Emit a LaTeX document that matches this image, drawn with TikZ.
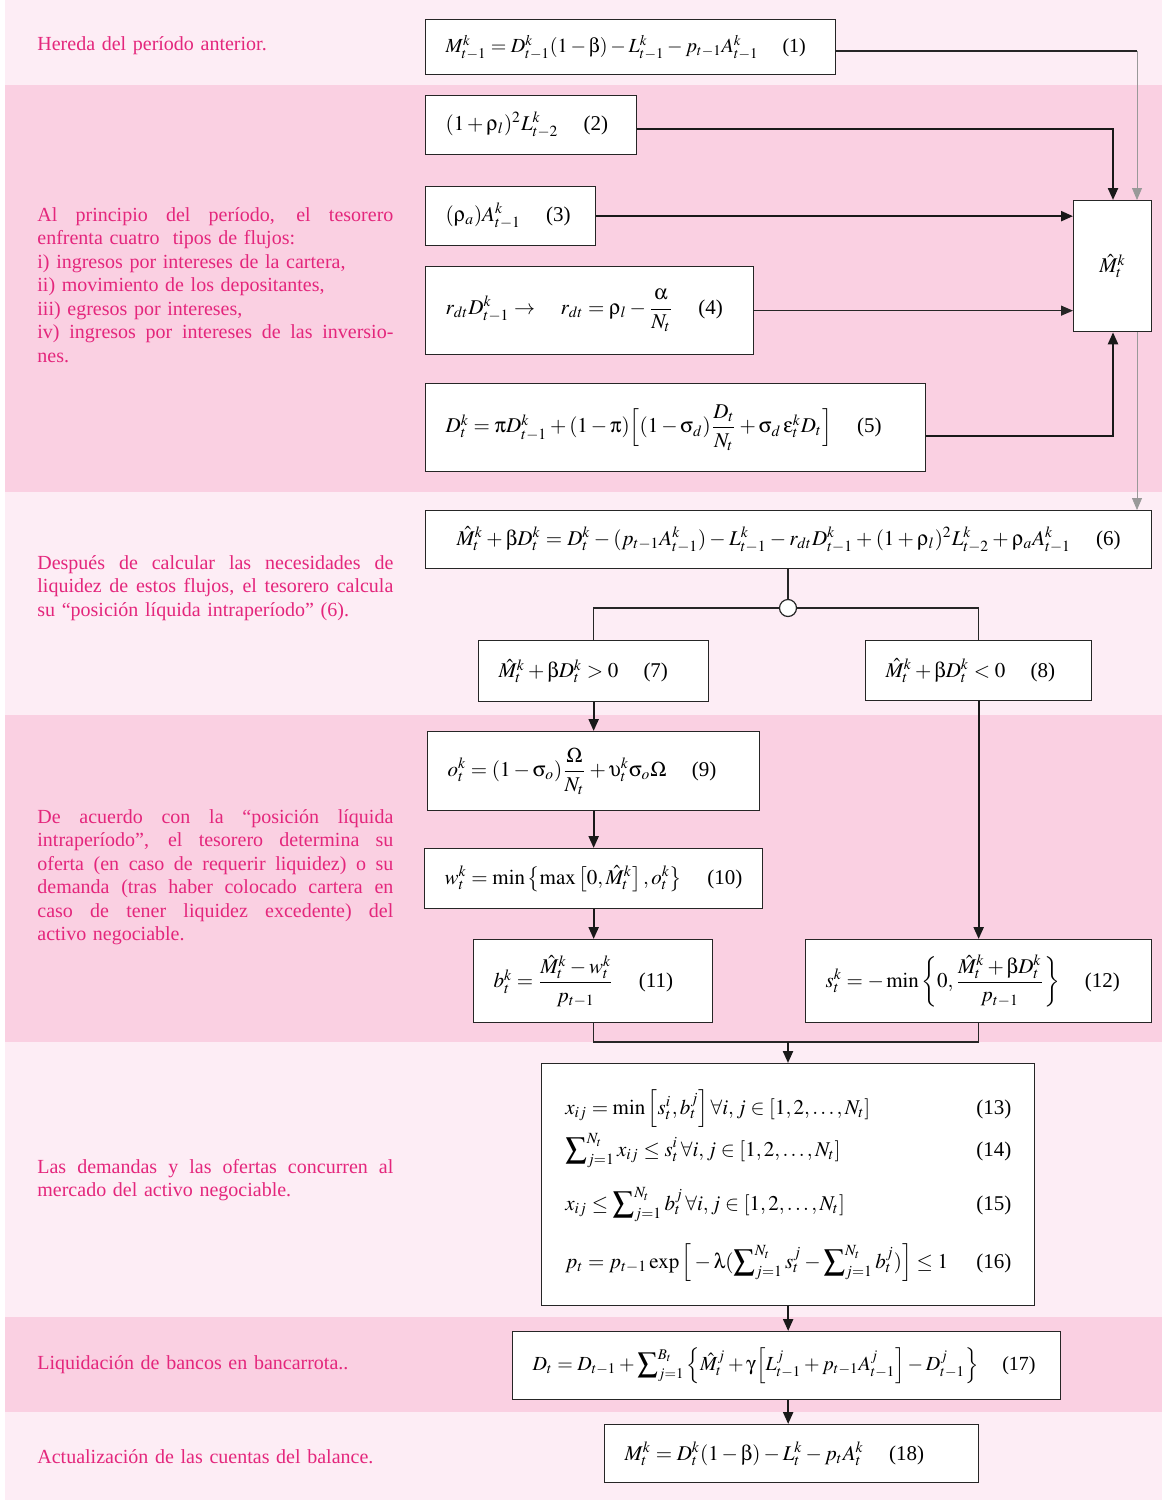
\documentclass[tikz,border=0pt]{standalone}
\usepackage{amsmath}
\usepackage{mathptmx}
\usepackage[no-math]{fontspec}
\setmainfont{Liberation Serif}
\usetikzlibrary{arrows.meta}

% upright greek letters from the Symbol font
\DeclareSymbolFont{grup}{U}{psy}{m}{n}
\DeclareMathSymbol{\grho}{\mathord}{grup}{`r}
\DeclareMathSymbol{\gbeta}{\mathord}{grup}{`b}
\DeclareMathSymbol{\gsigma}{\mathord}{grup}{`s}
\DeclareMathSymbol{\galpha}{\mathord}{grup}{`a}
\DeclareMathSymbol{\gpi}{\mathord}{grup}{`p}
\DeclareMathSymbol{\geps}{\mathord}{grup}{`e}
\DeclareMathSymbol{\gups}{\mathord}{grup}{`u}
\DeclareMathSymbol{\glambda}{\mathord}{grup}{`l}
\DeclareMathSymbol{\ggamma}{\mathord}{grup}{`g}
\DeclareMathSymbol{\gOmega}{\mathord}{grup}{`W}

\definecolor{bandlight}{RGB}{253,237,245}
\definecolor{banddark}{RGB}{250,208,226}
\definecolor{notecolor}{RGB}{228,38,124}

\newcommand{\fullline}[1]{{\spaceskip=0pt\xspaceskip=0pt\makebox[178pt][s]{#1}}\\}

\tikzset{
  eqbox/.style 2 args={draw=black!85, line width=0.65pt, fill=white, anchor=north west,
    align=left, inner xsep=10pt, inner ysep=0pt, text width=#1, minimum height=#2,
    font=\fontsize{10.5}{12.5}\selectfont},
  rowtext/.style={anchor=base west, align=left, inner sep=0pt, text width=223pt,
    font=\fontsize{10.5}{12.5}\selectfont},
  note/.style={anchor=north west, align=left, inner sep=0pt, text=notecolor,
    text width=178pt, font=\fontsize{10}{11.75}\selectfont},
  flow/.style={draw=black!85, line width=0.6pt},
  thickflow/.style={draw=black!90, line width=1.1pt},
  hairline/.style={draw=black!40, line width=0.4pt},
  tip/.style={-{Triangle[length=6pt,width=5pt]}}
}

\begin{document}
\begin{tikzpicture}[x=0.5pt,y=-0.5pt]

    % page and bands
    \useasboundingbox (0,0) rectangle (1162,1500);
    \fill[white] (0,0) rectangle (1162,1500);
    \fill[bandlight] (5,0) rectangle (1162,85);
    \fill[banddark] (5,85) rectangle (1162,492);
    \fill[bandlight] (5,492) rectangle (1162,715);
    \fill[banddark] (5,715) rectangle (1162,1042);
    \fill[bandlight] (5,1042) rectangle (1162,1317);
    \fill[banddark] (5,1317) rectangle (1162,1412);
    \fill[bandlight] (5,1412) rectangle (1162,1500);

    % notes on the left
    \node[note] (t1) at (37,36) {Hereda del período anterior.};
    \node[note] (t2) at (37,207) {\fullline{Al principio del período, el tesorero}
      enfrenta cuatro\ \ tipos de flujos:\\
      i) ingresos por intereses de la cartera,\\
      ii) movimiento de los depositantes,\\
      iii) egresos por intereses,\\
      \fullline{iv) ingresos por intereses de las inversio-}
      nes.};
    \node[note] (t3) at (37,555) {\fullline{Después de calcular las necesidades de}
      \fullline{liquidez de estos flujos, el tesorero calcula}
      su “posición líquida intraperíodo” (6).};
    \node[note] (t4) at (37,809) {\fullline{De acuerdo con la “posición líquida}
      \fullline{intraperíodo”, el tesorero determina su}
      \fullline{oferta (en caso de requerir liquidez) o su}
      \fullline{demanda (tras haber colocado cartera en}
      \fullline{caso de tener liquidez excedente) del}
      activo negociable.};
    \node[note] (t5) at (37,1159) {\fullline{Las demandas y las ofertas concurren al}
      mercado del activo negociable.};
    \node[note] (t6) at (37,1355) {Liquidación de bancos en bancarrota..};
    \node[note] (t7) at (37,1449) {Actualización de las cuentas del balance.};

    % equation boxes
    \node[eqbox={185pt}{27.5pt}, font=\fontsize{10}{12}\selectfont] (e1) at (425,19)
      {$M_{t-1}^{k} = D_{t-1}^{k}(1-\gbeta) - L_{t-1}^{k} - p_{t-1}A_{t-1}^{k}$\hspace{1.2em}(1)};
    \node[eqbox={85.5pt}{29.5pt}] (e2) at (425,95)
      {$(1+\grho_l)^2 L_{t-2}^{k}$\hspace{1.2em}(2)};
    \node[eqbox={65pt}{29.5pt}] (e3) at (425,186)
      {$(\grho_a)A_{t-1}^{k}$\hspace{1.2em}(3)};
    \node[eqbox={144pt}{44pt}] (e4) at (425,266)
      {$r_{dt}D_{t-1}^{k}\rightarrow\quad r_{dt} = \grho_l - \dfrac{\galpha}{N_t}$\hspace{1.2em}(4)};
    \node[eqbox={230pt}{44pt}] (e5) at (425,383)
      {$D_t^k = \gpi D_{t-1}^k + (1-\gpi)\Big[(1-\gsigma_d)\dfrac{D_t}{N_t} + \gsigma_d\,\geps_t^k D_t\Big]$\hspace{1.2em}(5)};
    \node[draw=black!85, line width=0.65pt, fill=white, anchor=north west, inner sep=0pt,
      minimum width=39pt, minimum height=65.5pt, font=\fontsize{10.5}{12.5}\selectfont] (mh) at (1073,200)
      {$\hat{M}_t^k$};
    \node[eqbox={343pt}{29pt}, align=center] (e6) at (425,510)
      {$\hat{M}_t^k + \gbeta D_t^k = D_t^k - (p_{t-1}A_{t-1}^k) - L_{t-1}^k - r_{dt}D_{t-1}^k + (1+\grho_l)^2 L_{t-2}^k + \grho_a A_{t-1}^k$\hspace{1.2em}(6)};

    % split of the liquid position
    \node[circle, draw=black!85, line width=0.6pt, fill=white, minimum size=8.5pt, inner sep=0pt] (jn) at (788,608) {};
    \node[eqbox={95pt}{30.5pt}] (e7) at (478,640)
      {$\hat{M}_t^k + \gbeta D_t^k > 0$\hspace{1.2em}(7)};
    \node[eqbox={93pt}{30pt}] (e8) at (865,640)
      {$\hat{M}_t^k + \gbeta D_t^k < 0$\hspace{1.2em}(8)};
    \node[eqbox={146pt}{39.5pt}] (e9) at (427,731)
      {$o_t^k = (1-\gsigma_o)\dfrac{\gOmega}{N_t} + \gups_t^k\gsigma_o\gOmega$\hspace{1.2em}(9)};
    \node[eqbox={149pt}{30pt}] (e10) at (424,848)
      {$w_t^k = \min\left\{\max\left[0,\hat{M}_t^k\right], o_t^k\right\}$\hspace{1.2em}(10)};
    \node[eqbox={99.5pt}{41.5pt}] (e11) at (473,939)
      {$b_t^k = \dfrac{\hat{M}_t^k - w_t^k}{p_{t-1}}$\hspace{1.2em}(11)};
    \node[eqbox={153pt}{41.5pt}] (e12) at (805,939)
      {$s_t^k = -\min\left\{0,\dfrac{\hat{M}_t^k + \gbeta D_t^k}{p_{t-1}}\right\}$\hspace{1.2em}(12)};

    % market clearing
    \node[eqbox={223.5pt}{121pt}, inner xsep=11.5pt] (e13) at (541,1063) {};
    \node[rowtext] (r13) at (565,1114)
      {$x_{ij} = \min\left[s_t^i, b_t^j\right]\forall i,j\in\left[1,2,\ldots,N_t\right]$\hfill(13)};
    \node[rowtext] (r14) at (565,1156)
      {$\displaystyle\sum\nolimits_{j=1}^{N_t} x_{ij} \le s_t^i\,\forall i,j\in\left[1,2,\ldots,N_t\right]$\hfill(14)};
    \node[rowtext] (r15) at (565,1210)
      {$x_{ij} \le \displaystyle\sum\nolimits_{j=1}^{N_t} b_t^j\,\forall i,j\in\left[1,2,\ldots,N_t\right]$\hfill(15)};
    \node[rowtext] (r16) at (565,1268)
      {$p_t = p_{t-1}\exp\Big[-\glambda(\displaystyle\sum\nolimits_{j=1}^{N_t} s_t^j - \sum\nolimits_{j=1}^{N_t} b_t^j)\Big] \le 1$\hfill(16)};

    \node[eqbox={254pt}{34pt}, font=\fontsize{10}{12}\selectfont] (e17) at (512,1331)
      {$D_t = D_{t-1} + \displaystyle\sum\nolimits_{j=1}^{B_t}\Big\{\hat{M}_t^j + \ggamma\Big[L_{t-1}^j + p_{t-1}A_{t-1}^j\Big] - D_{t-1}^j\Big\}$\hspace{1.2em}(17)};
    \node[eqbox={167pt}{29pt}] (e18) at (604,1424)
      {$M_t^k = D_t^k(1-\gbeta) - L_t^k - p_t A_t^k$\hspace{1.2em}(18)};

    % connectors
    \coordinate (c1) at (1137,51);
    \coordinate (c2) at (1113,129);
    \coordinate (c5) at (1113,436);
    \coordinate (cb) at (788,1042);
    \draw[flow] (e1.east |- c1) -- (c1);
    \draw[hairline, tip] (c1) -- (c1 |- mh.north);
    \draw[hairline, tip] (c1 |- mh.south) -- (c1 |- e6.north);
    \draw[thickflow, tip] (e2.east |- c2) -- (c2) -- (c2 |- mh.north);
    \draw[thickflow, tip] (e3.east) -- (e3.east -| mh.west);
    \draw[flow, tip] (e4.east) -- (e4.east -| mh.west);
    \draw[thickflow, tip] (e5.east |- c5) -- (c5) -- (c5 |- mh.south);

    \draw[flow] (e6.south -| jn.north) -- (jn.north);
    \draw[flow] (jn.west) -- (jn.west -| e7.north) -- (e7.north);
    \draw[flow] (jn.east) -- (jn.east -| e8.north) -- (e8.north);
    \draw[thickflow, tip] (e7.south) -- (e7.south |- e9.north);
    \draw[thickflow, tip] (e9.south) -- (e9.south |- e10.north);
    \draw[thickflow, tip] (e10.south) -- (e10.south |- e11.north);
    \draw[thickflow, tip] (e8.south) -- (e8.south |- e12.north);
    \draw[flow] (e11.south) -- (e11.south |- cb) -- (e12.south |- cb) -- (e12.south);
    \draw[thickflow, tip] (cb) -- (cb |- e13.north);
    \draw[thickflow, tip] (e13.south) -- (e13.south |- e17.north);
    \draw[thickflow, tip] (e13.south |- e17.south) -- (e13.south |- e18.north);

\end{tikzpicture}
\end{document}
